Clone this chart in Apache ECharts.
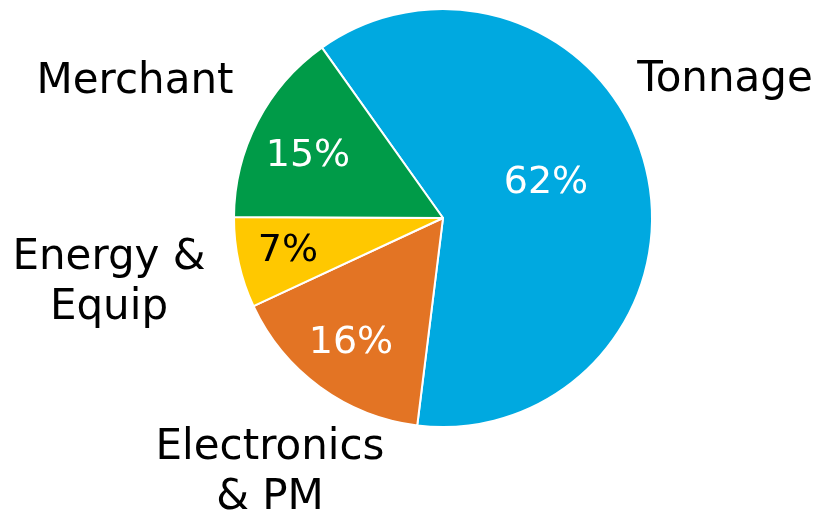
<!DOCTYPE html>
<html>
<head>
<meta charset="utf-8">
<script src="https://cdn.jsdelivr.net/npm/echarts@6/dist/echarts.min.js"></script>
<style>html,body{margin:0;padding:0;background:#fff;}#c{width:821px;height:516px;}</style>
</head>
<body>
<div id="c"></div>
<script>
// Data (clockwise from the upper-left boundary)
const categories = ['Tonnage', 'Electronics\n& PM', 'Energy &\nEquip', 'Merchant'];
const shares = [61.8, 16.1, 7.0, 15.1];
const percentLabels = ['62%', '16%', '7%', '15%'];

// Styling / layout
const sliceColors = ['#00A9E0', '#E37424', '#FFC800', '#009B48'];
const percentColors = ['#ffffff', '#ffffff', '#000000', '#ffffff'];
const percentPos = [[546, 183], [351, 343], [288, 251], [308, 156]];
const namePos = [[725, 80], [270, 473], [109, 283], [135, 82]];

const FONT = 'DejaVu Sans, Verdana, sans-serif';
const chart = echarts.init(document.getElementById('c'), null, {renderer: 'canvas'});

const base = {
  type: 'pie',
  center: [443, 218],
  radius: [0, 209],
  startAngle: 125.4,
  clockwise: true,
  animation: false,
  labelLine: {show: false}
};

chart.setOption({
  backgroundColor: '#ffffff',
  series: [
    Object.assign({}, base, {
      name: 'shares',
      itemStyle: {borderColor: '#ffffff', borderWidth: 2},
      emphasis: {disabled: true},
      label: {
        show: true,
        position: 'inside',
        fontFamily: FONT,
        fontSize: 38,
        formatter: p => percentLabels[p.dataIndex]
      },
      labelLayout: p => ({x: percentPos[p.dataIndex][0], y: percentPos[p.dataIndex][1], align: 'center', verticalAlign: 'middle'}),
      data: categories.map((c, i) => ({
        name: c, value: shares[i],
        itemStyle: {color: sliceColors[i]},
        label: {color: percentColors[i]}
      }))
    }),
    Object.assign({}, base, {
      name: 'names',
      silent: true,
      z: 1,
      itemStyle: {color: 'rgba(0,0,0,0)', borderWidth: 0},
      emphasis: {disabled: true},
      label: {
        show: true,
        position: 'inside',
        fontFamily: FONT,
        fontSize: 42,
        lineHeight: 50,
        color: '#000000',
        align: 'center',
        formatter: p => p.name
      },
      labelLayout: p => ({x: namePos[p.dataIndex][0], y: namePos[p.dataIndex][1], align: 'center', verticalAlign: 'middle'}),
      data: categories.map((c, i) => ({name: c, value: shares[i]}))
    })
  ]
});
</script>
</body>
</html>
